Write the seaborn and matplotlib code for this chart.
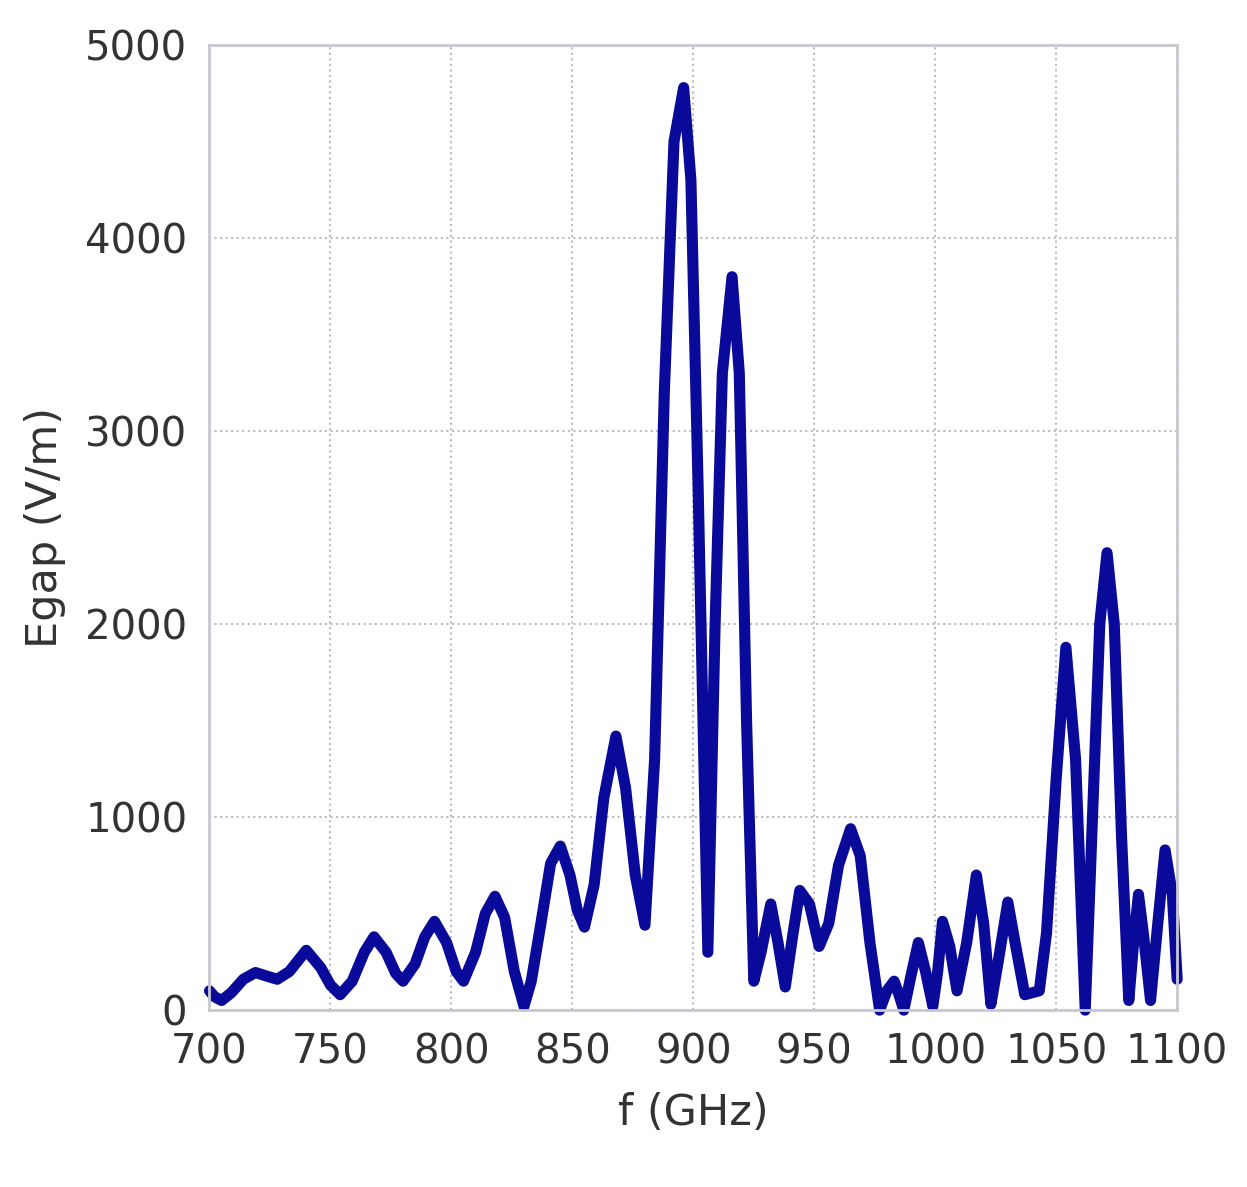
import numpy as np
import pandas as pd
import seaborn as sns
import matplotlib
matplotlib.use('Agg')
import matplotlib.pyplot as plt

# frequency (GHz) and gap field (V/m)
freq = [700, 702, 705, 709, 714, 719, 724, 728, 733, 740, 746, 750, 754, 759, 764, 768,
        773, 777, 780, 785, 789, 793, 798, 802, 805, 810, 814, 818, 822, 826, 830, 833,
        837, 841, 845, 849, 852, 855, 859, 863, 868, 872, 876, 880, 884, 888, 892, 896,
        899, 902, 906, 909, 912, 916, 919, 922, 925, 928, 932, 935, 938, 941, 944, 948,
        952, 956, 960, 965, 969, 973, 977, 980, 983, 985, 987, 990, 993, 996, 999, 1001,
        1003, 1006, 1009, 1013, 1017, 1020, 1023, 1026, 1030, 1033, 1037, 1043, 1046,
        1050, 1054, 1058, 1062, 1065, 1068, 1071, 1074, 1077, 1080, 1082, 1084, 1086,
        1089, 1092, 1095, 1098, 1100]
egap = [100, 70, 50, 90, 160, 195, 175, 160, 200, 310, 220, 130, 80, 150, 300, 380,
        300, 190, 150, 240, 380, 460, 350, 200, 150, 300, 500, 590, 480, 200, 20, 150,
        450, 760, 850, 700, 520, 430, 650, 1100, 1420, 1150, 700, 440, 1300, 3200, 4500, 4780,
        4300, 2700, 300, 2000, 3300, 3800, 3300, 1500, 150, 300, 550, 350, 120, 380, 620, 550,
        330, 450, 750, 940, 800, 350, 0, 100, 150, 80, 0, 180, 350, 200, 20, 200,
        460, 330, 100, 350, 700, 450, 30, 250, 560, 350, 80, 100, 400,
        1200, 1880, 1300, 0, 1000, 2000, 2370, 2000, 900, 50, 350, 600, 400,
        50, 450, 830, 600, 160]

sns.set_theme(style='whitegrid')
plt.rcParams['font.family'] = ['DejaVu Sans']

fig = plt.figure(figsize=(12.47, 11.87), dpi=100)
ax = fig.add_axes([0.168, 0.149, 0.776, 0.813])

df = pd.DataFrame({'f': freq, 'E': egap})
sns.lineplot(data=df, x='f', y='E', ax=ax, color='#0a0a9a', linewidth=8,
             solid_joinstyle='round', solid_capstyle='round', clip_on=False)

ax.set_xlim(700, 1100)
ax.set_ylim(0, 5000)
ax.set_xticks(range(700, 1101, 50))
ax.set_yticks(range(0, 5001, 1000))
ax.grid(True, color='#bbbbbb', linestyle=':', linewidth=1.5)
for s in ax.spines.values():
    s.set_color('#c8c8d0')
    s.set_linewidth(2)
ax.tick_params(labelsize=29, colors='#333333', pad=10)
ax.set_xlabel('f (GHz)', fontsize=31, color='#333333', labelpad=14)
ax.set_ylabel('Egap (V/m)', fontsize=31, color='#333333', labelpad=14)

fig.savefig('out.png', dpi=100)
